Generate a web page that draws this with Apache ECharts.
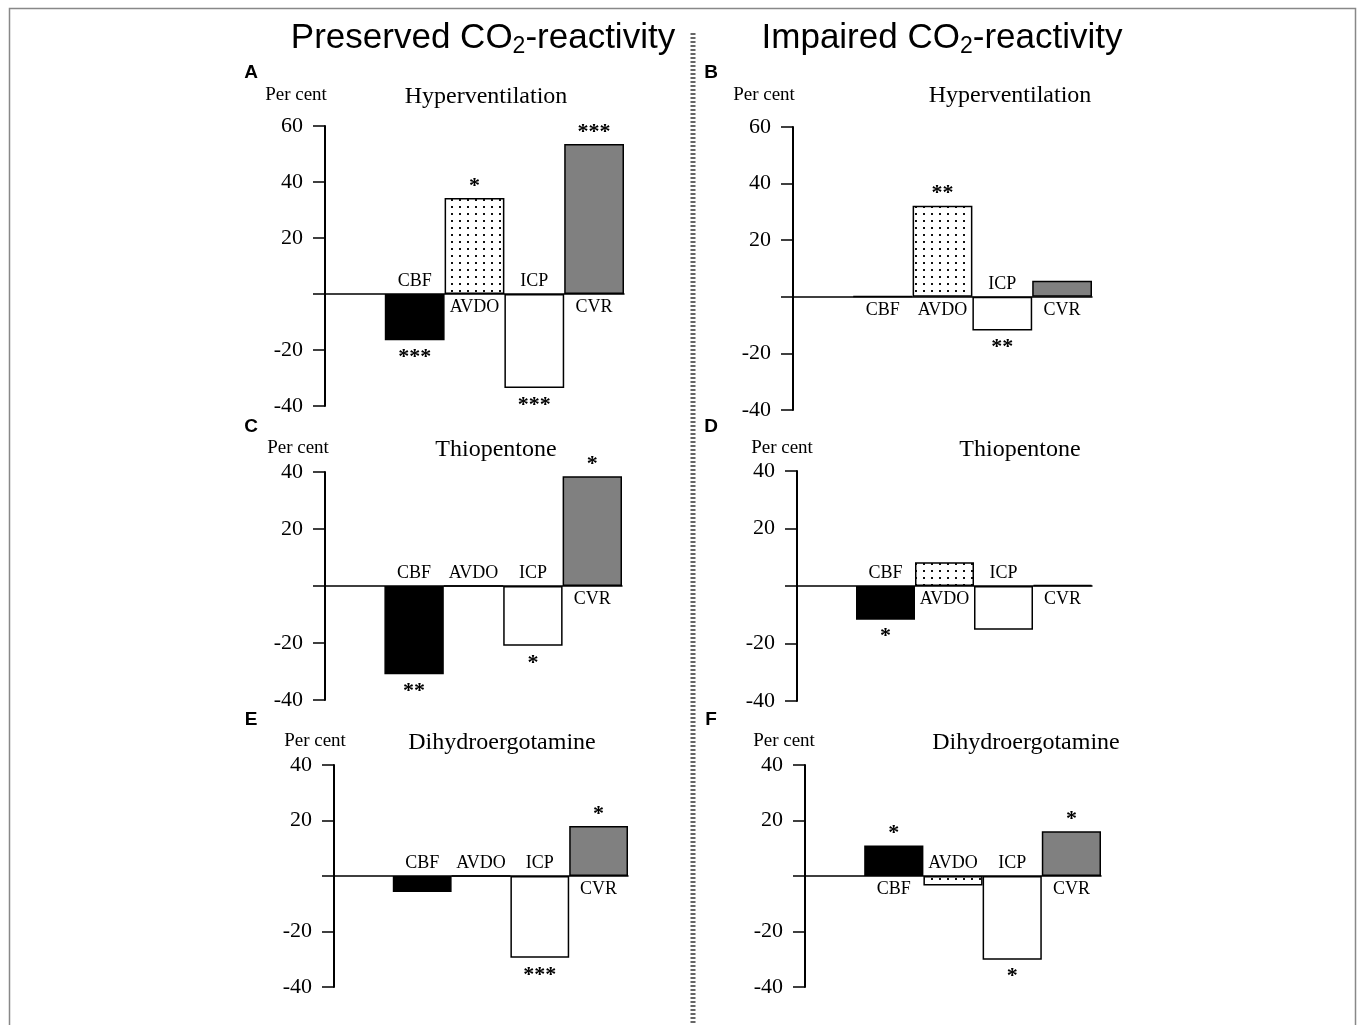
<!DOCTYPE html>
<html>
<head>
<meta charset="utf-8">
<script src="https://cdn.jsdelivr.net/npm/echarts@6/dist/echarts.min.js"></script>
<style>
html,body{margin:0;padding:0;background:#fff;}
#c{width:1358px;height:1025px;}
</style>
</head>
<body>
<div id="c"></div>
<script>
// ---------------- data ----------------
const categories = ['CBF', 'AVDO', 'ICP', 'CVR'];

const hyperPreserved = [-16.5, 34.3, -33.6, 53.6];
const hyperImpaired  = [0.3, 32.2, -11.9, 5.7];
const thioPreserved  = [-31, 0, -21, 38.5];
const thioImpaired   = [-11.7, 8.3, -15.2, 0.3];
const dhePreserved   = [-5.8, 0, -29.5, 18];
const dheImpaired    = [11, -3.4, -30.2, 16.1];

const sigHyperPreserved = ['***', '*', '***', '***'];
const sigHyperImpaired  = ['', '**', '**', ''];
const sigThioPreserved  = ['**', '', '*', '*'];
const sigThioImpaired   = ['*', '', '', ''];
const sigDhePreserved   = ['', '', '***', '*'];
const sigDheImpaired    = ['*', '', '*', '*'];

const yRangeHyper = [-40, 60];
const yRangeOther = [-40, 40];
const yTickStep = 20;

const panelLetters = ['A', 'B', 'C', 'D', 'E', 'F'];
const panelTitles = ['Hyperventilation', 'Hyperventilation', 'Thiopentone', 'Thiopentone', 'Dihydroergotamine', 'Dihydroergotamine'];
const yAxisName = 'Per cent';
const columnTitleParts = [['Preserved CO', '2', '-reactivity'], ['Impaired CO', '2', '-reactivity']];

// ---------------- layout (positions only) ----------------
const boxes = [
  {left: 325, top: 126, width: 299, height: 280, letter: [251, 73],  per: [296, 95],  title: [486, 97]},
  {left: 793, top: 127, width: 299, height: 283, letter: [711, 73],  per: [764, 95],  title: [1010, 96]},
  {left: 325, top: 472, width: 297, height: 228, letter: [251, 427], per: [298, 448], title: [496, 450]},
  {left: 797, top: 471, width: 295, height: 230, letter: [711, 427], per: [782, 448], title: [1020, 450]},
  {left: 334, top: 765, width: 294, height: 222, letter: [251, 720], per: [315, 741], title: [502, 743]},
  {left: 805, top: 765, width: 296, height: 222, letter: [711, 720], per: [784, 741], title: [1026, 743]}
];
const columnTitlePos = [[483, 38], [942, 38]];

const panels = [
  {values: hyperPreserved, sig: sigHyperPreserved, range: yRangeHyper},
  {values: hyperImpaired,  sig: sigHyperImpaired,  range: yRangeHyper},
  {values: thioPreserved,  sig: sigThioPreserved,  range: yRangeOther},
  {values: thioImpaired,   sig: sigThioImpaired,   range: yRangeOther},
  {values: dhePreserved,   sig: sigDhePreserved,   range: yRangeOther},
  {values: dheImpaired,    sig: sigDheImpaired,    range: yRangeOther}
];

// ---------------- styles ----------------
const SERIF = "'Liberation Serif', 'Times New Roman', serif";
const SANS = "'Liberation Sans', Arial, sans-serif";

const pc = document.createElement('canvas');
pc.width = 8; pc.height = 7;
const g = pc.getContext('2d');
g.fillStyle = '#ffffff'; g.fillRect(0, 0, 8, 7);
g.fillStyle = '#111111'; g.fillRect(3, 3, 2, 2);
const fills = ['#000000', {image: pc, repeat: 'repeat'}, '#ffffff', '#808080'];

const grid = [], xAxis = [], yAxis = [], series = [], graphic = [];

panels.forEach((p, i) => {
  const b = boxes[i];
  grid.push({left: b.left, top: b.top, width: b.width, height: b.height, containLabel: false});
  xAxis.push({
    gridIndex: i, type: 'category', data: [''].concat(categories),
    axisLine: {show: true, onZero: true, lineStyle: {color: '#000', width: 1.5}},
    axisTick: {show: false}, axisLabel: {show: false}, splitLine: {show: false}
  });
  yAxis.push({
    gridIndex: i, type: 'value', min: p.range[0], max: p.range[1], interval: yTickStep,
    axisLine: {show: true, onZero: false, lineStyle: {color: '#000', width: 2}},
    axisTick: {show: true, length: 12, lineStyle: {color: '#000', width: 1.5}},
    axisLabel: {
      formatter: v => (v === 0 ? '' : String(v)),
      fontFamily: SERIF, fontSize: 22, color: '#000', margin: 22
    },
    splitLine: {show: false}
  });
  series.push({
    type: 'bar', xAxisIndex: i, yAxisIndex: i, barCategoryGap: '0%', z: 2,
    itemStyle: {borderColor: '#000', borderWidth: 1.5},
    label: {show: true, color: '#000', fontFamily: SERIF, fontSize: 22, fontWeight: 'bold',
      formatter: prm => p.sig[prm.dataIndex - 1] || ''},
    data: ['-'].concat(p.values.map((v, j) => ({
      value: v,
      itemStyle: {color: fills[j]},
      label: v >= 0 ? {position: 'top', distance: 1} : {position: 'bottom', distance: 6}
    })))
  });
  series.push({
    type: 'scatter', xAxisIndex: i, yAxisIndex: i, z: 3, symbolSize: 0,
    itemStyle: {color: '#000', opacity: 1},
    label: {show: true, color: '#000', opacity: 1, fontFamily: SERIF, fontSize: 18, formatter: prm => prm.name},
    data: categories.map((c, j) => ({
      name: c, value: [c, 0],
      label: p.values[j] > 0 ? {position: 'bottom', distance: 4} : {position: 'top', distance: 4}
    }))
  });
  graphic.push({type: 'text', x: b.letter[0], y: b.letter[1], style: {text: panelLetters[i], font: 'bold 19px ' + SANS, fill: '#000', align: 'center', verticalAlign: 'middle'}});
  graphic.push({type: 'text', x: b.per[0], y: b.per[1], style: {text: yAxisName, font: '19px ' + SERIF, fill: '#000', align: 'center', verticalAlign: 'middle'}});
  graphic.push({type: 'text', x: b.title[0], y: b.title[1], style: {text: panelTitles[i], font: '24px ' + SERIF, fill: '#000', align: 'center', verticalAlign: 'middle'}});
});

columnTitleParts.forEach((parts, k) => {
  graphic.push({
    type: 'text', x: columnTitlePos[k][0], y: columnTitlePos[k][1],
    style: {
      text: '{a|' + parts[0] + '}{s|' + parts[1] + '}{a|' + parts[2] + '}',
      align: 'center', verticalAlign: 'middle',
      rich: {
        a: {fontSize: 35, fontFamily: SANS, fill: '#000', color: '#000'},
        s: {fontSize: 23, fontFamily: SANS, fill: '#000', color: '#000', padding: [18, 0, 0, 0]}
      }
    }
  });
});

graphic.push({type: 'line', shape: {x1: 693, y1: 33, x2: 693, y2: 1025}, style: {stroke: '#666', lineWidth: 5, lineDash: [2, 2]}});
graphic.push({type: 'rect', shape: {x: 9.5, y: 8.5, width: 1346, height: 1040}, style: {fill: 'none', stroke: '#888', lineWidth: 1.5}});

const chart = echarts.init(document.getElementById('c'), null, {renderer: 'canvas'});
chart.setOption({
  animation: false, backgroundColor: '#fff',
  grid, xAxis, yAxis, series, graphic
});
</script>
</body>
</html>
